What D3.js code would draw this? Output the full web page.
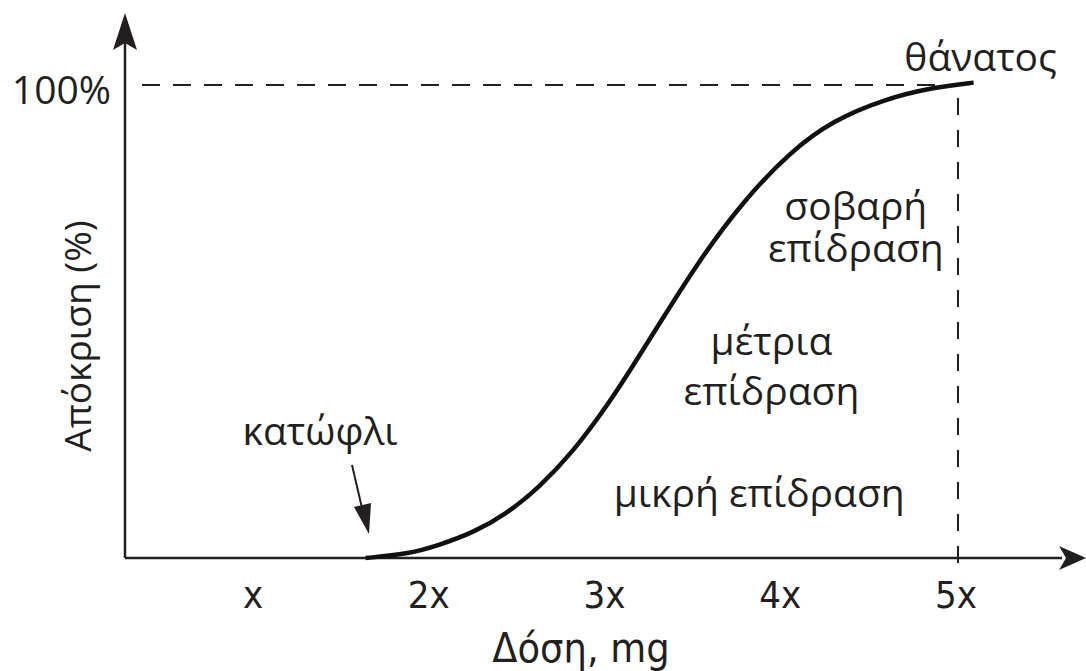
<!DOCTYPE html>
<html>
<head>
<meta charset="utf-8">
<script src="https://cdn.jsdelivr.net/npm/d3@7"></script>
<style>
  body { margin: 0; background: #fff; }
  text { fill: #231f20; }
  .lbl { font-family: "Open Sans", sans-serif; font-size: 39px; }
  .cond { font-family: "DejaVu Sans Condensed", "DejaVu Sans", sans-serif; font-stretch: condensed; font-size: 38px; }
</style>
</head>
<body>
<svg width="1086" height="671"></svg>
<script>
(function () {

  // dose in multiples of x, response in %
  var tickDoses = [1, 2, 3, 4, 5]
  var tickLabels = ['x', '2x', '3x', '4x', '5x']

  var curveDose = [1.64, 1.88, 2.06, 2.25, 2.45, 2.63, 2.82, 3.01, 3.16, 3.32, 3.54, 3.79, 4.06, 4.30, 4.59, 4.87, 5.10]
  var curveResponse = [0, 0.8, 2.75, 5.3, 9.5, 15, 22.4, 31.9, 40.5, 50, 63, 75.5, 86, 92.5, 97, 99.5, 100.5]

  // effect labels, anchored in data units (dose, response); '|' splits lines
  var effectText = ['θάνατος', 'σοβαρή|επίδραση', 'μέτρια|επίδραση', 'μικρή επίδραση']
  var effectDose = [5.14, 4.43, 3.95, 3.88]
  var effectResponse = [103, 71.5, 43, 10.7]

  var svg = d3.select('svg')
  var x = d3.scaleLinear().domain([1, 5]).range([253, 956])
  var y = d3.scaleLinear().domain([0, 100]).range([558, 85])

  var ink = '#231f20'
  var x0 = 125

  // axes
  svg.append('line')
    .attr('x1', x0).attr('x2', 1062).attr('y1', y(0)).attr('y2', y(0))
    .attr('stroke', ink).attr('stroke-width', 2.5)
  svg.append('line')
    .attr('x1', x0).attr('x2', x0).attr('y1', y(0)).attr('y2', 40)
    .attr('stroke', ink).attr('stroke-width', 2.5)

  // arrow heads (notched)
  svg.append('path')
    .attr('d', 'M1086,' + y(0) + ' L1059,' + (y(0) - 12) + ' L1066,' + y(0) + ' L1059,' + (y(0) + 12) + ' Z')
    .attr('fill', ink)
  svg.append('path')
    .attr('d', 'M' + x0 + ',13 L' + (x0 - 12) + ',50 L' + x0 + ',43 L' + (x0 + 12) + ',50 Z')
    .attr('fill', ink)

  // reference dashes
  svg.append('line')
    .attr('x1', 142).attr('x2', x(5) - 12).attr('y1', y(100)).attr('y2', y(100))
    .attr('stroke', ink).attr('stroke-width', 2).attr('stroke-dasharray', '18,13')
  svg.append('line')
    .attr('x1', x(5) + 2).attr('x2', x(5) + 2).attr('y1', 98).attr('y2', y(0) + 5)
    .attr('stroke', ink).attr('stroke-width', 2).attr('stroke-dasharray', '17,15')

  // tick labels
  svg.selectAll('.tick')
    .data(tickDoses)
    .enter().append('text')
    .attr('class', 'cond')
    .attr('text-anchor', 'middle')
    .attr('x', d => x(d))
    .attr('y', 608)
    .text((d, i) => tickLabels[i])

  svg.append('text')
    .attr('class', 'cond')
    .attr('text-anchor', 'middle')
    .style('font-size', '41px')
    .attr('x', 581).attr('y', 662)
    .text('Δόση, mg')

  svg.append('text')
    .attr('class', 'lbl')
    .attr('text-anchor', 'end')
    .attr('x', 111).attr('y', 104)
    .text('100%')

  svg.append('text')
    .attr('class', 'lbl')
    .attr('text-anchor', 'middle')
    .style('font-size', '37px')
    .attr('transform', 'translate(91,336) rotate(-90)')
    .text('Απόκριση (%)')

  // dose-response curve
  var line = d3.line()
    .x(d => x(d[0]))
    .y(d => y(d[1]))
    .curve(d3.curveBasis)

  svg.append('path')
    .datum(d3.zip(curveDose, curveResponse))
    .attr('d', line)
    .attr('fill', 'none')
    .attr('stroke', '#111')
    .attr('stroke-width', 4.5)

  // effect labels (one text element per label, lines as tspans)
  var lineGap = [0, 42, 50, 0]
  svg.selectAll('.effect')
    .data(effectText)
    .enter().append('text')
    .attr('class', 'lbl')
    .attr('text-anchor', 'middle')
    .each(function (d, i) {
      var t = d3.select(this)
      d.split('|').forEach(function (part, k) {
        t.append('tspan')
          .attr('x', x(effectDose[i]))
          .attr('y', y(effectResponse[i]) + k * lineGap[i])
          .text(part)
      })
    })

  // threshold
  svg.append('text')
    .attr('class', 'lbl')
    .attr('text-anchor', 'middle')
    .attr('x', 320).attr('y', 445)
    .text('κατώφλι')

  svg.append('line')
    .attr('x1', 352).attr('y1', 465).attr('x2', 362).attr('y2', 508)
    .attr('stroke', ink).attr('stroke-width', 2)
  svg.append('path')
    .attr('d', 'M369,534 L354,507 L371,503 Z')
    .attr('fill', ink)

})()
</script>
</body>
</html>
